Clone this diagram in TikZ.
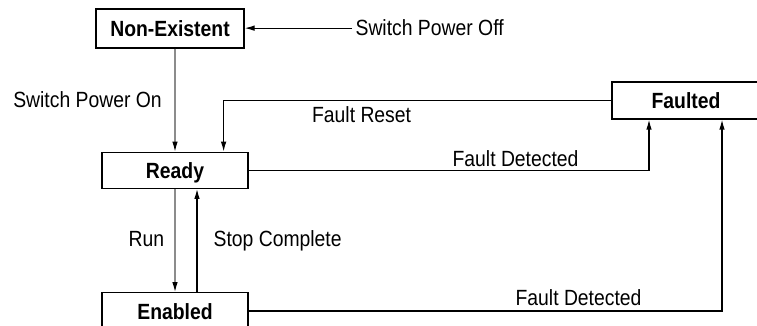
\documentclass[tikz,border=0pt]{standalone}
\usepackage{fontspec}
\setmainfont[FakeStretch=0.88]{Liberation Sans}
\usetikzlibrary{arrows.meta}
\usetikzlibrary{calc}

\begin{document}
\begin{tikzpicture}[x=1pt, y=-1pt, line width=1.2pt,
	font=\fontsize{22}{26}\selectfont,
	state/.style={draw, rectangle, inner sep=0pt, text height=16pt, text depth=0pt, font=\fontsize{22}{26}\selectfont\bfseries},
	lbl/.style={inner sep=0pt, anchor=base west},
	trans/.style={-{Latex[length=10pt, width=5.5pt]}},
	grey trans/.style={draw=black!45, -{Latex[length=10pt, width=5.5pt, color=black]}}]
		\useasboundingbox (0,0) rectangle (757,326);
		\clip (0,0) rectangle (757,326);
		% states
		\node[state, minimum width=148pt, minimum height=39pt] (nonex) at (170,28.5) {Non-Existent};
		\node[state, minimum width=146pt, minimum height=36pt] (ready) at (175,170.3) {Ready};
		\node[state, minimum width=146pt, minimum height=36.6pt] (enabled) at (175,311) {Enabled};
		\node[state, minimum width=148pt, minimum height=37pt] (faulted) at (686,100.5) {Faulted};
		% labels
		\node[lbl] (poff) at (355,36) {Switch Power Off};
		\node[lbl] (pon) at (12.7,107) {Switch Power On};
		\node[lbl] (freset) at (311.5,123) {Fault Reset};
		\node[lbl] (fdet1) at (452,166.5) {Fault Detected};
		\node[lbl] (run) at (128,246.5) {Run};
		\node[lbl] (stop) at (213,246.5) {Stop Complete};
		\node[lbl] (fdet2) at (515,305) {Fault Detected};
		% transitions
		\draw[trans] ([xshift=-3pt]poff.west) -- (poff.west -| nonex.east);
		\draw[grey trans] (nonex.south -| ready.north) -- (ready.north);
		\draw[trans] (faulted.west) -| ($(ready.north east)+(-25,0)$);
		\draw[trans] (ready.east) -| ($(faulted.south)+(-37,0)$);
		\draw[trans] (enabled.east) -| ($(faulted.south)+(36,0)$);
		\draw[grey trans] (ready.south) -- (enabled.north);
		\draw[trans] ($(enabled.north)+(22,0)$) -- ($(ready.south)+(22,0)$);
	\end{tikzpicture}
\end{document}
